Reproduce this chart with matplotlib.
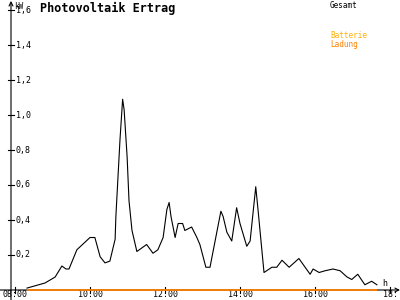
import matplotlib
matplotlib.use("Agg")
import matplotlib.pyplot as plt

# time (hours) and power (kW) of "Gesamt"
times = [8.32, 8.80, 9.07, 9.25, 9.36, 9.44, 9.65, 10.00, 10.13, 10.27, 10.40, 10.53,
         10.67, 10.69, 10.80, 10.87, 10.91, 10.99, 11.04, 11.12, 11.25, 11.51, 11.68,
         11.81, 11.95, 12.05, 12.11, 12.16, 12.27, 12.35, 12.47, 12.53, 12.71, 12.85,
         12.93, 13.09, 13.20, 13.49, 13.55, 13.65, 13.78, 13.91, 14.00, 14.18, 14.27,
         14.42, 14.48, 14.64, 14.85, 14.98, 15.12, 15.31, 15.57, 15.87, 15.95, 16.11,
         16.27, 16.48, 16.67, 16.85, 16.98, 17.14, 17.33, 17.51, 17.65]
gesamt = [0.011, 0.04, 0.074, 0.137, 0.12, 0.12, 0.23, 0.30, 0.30, 0.19, 0.155, 0.165,
          0.29, 0.42, 0.86, 1.09, 1.03, 0.76, 0.51, 0.34, 0.22, 0.26, 0.21,
          0.23, 0.30, 0.46, 0.50, 0.42, 0.30, 0.38, 0.38, 0.34, 0.36, 0.30,
          0.26, 0.13, 0.13, 0.45, 0.42, 0.33, 0.28, 0.47, 0.38, 0.25, 0.28,
          0.59, 0.46, 0.10, 0.13, 0.13, 0.17, 0.13, 0.18, 0.09, 0.12, 0.10,
          0.11, 0.12, 0.11, 0.075, 0.06, 0.09, 0.03, 0.05, 0.03]
ladung = [0.0] * len(times)

x_ticks = [8, 10, 12, 14, 16, 18]
x_labels = ["08:00", "10:00", "12:00", "14:00", "16:00", "18:"]
y_ticks = [0.2, 0.4, 0.6, 0.8, 1.0, 1.2, 1.4, 1.6]
y_labels = ["0,2", "0,4", "0,6", "0,8", "1,0", "1,2", "1,4", "1,6"]

W, H = 400, 300
fig = plt.figure(figsize=(4, 3), dpi=100)
fig.patch.set_facecolor("white")
ax = fig.add_axes([0, 0, 1, 1])
ax.set_axis_off()

# pixel -> data mapping: 08:00 at px 15, 37.5 px/h ; 0 kW at px 290, 175 px/kW
ax.set_xlim(8 - 15 / 37.5, 8 + (W - 15) / 37.5)
ax.set_ylim(-(H - 290) / 175, 290 / 175)

x0_axis = 8 - 4 / 37.5  # y axis position
mono = "DejaVu Sans Mono"

# axes lines with arrows
ax.annotate("", xy=(ax.get_xlim()[1], 0), xytext=(ax.get_xlim()[0], 0),
            arrowprops=dict(arrowstyle="->", color="black", lw=0.8, shrinkA=0, shrinkB=0,
                            mutation_scale=7), zorder=1)
ax.annotate("", xy=(x0_axis, ax.get_ylim()[1] - 0.005), xytext=(x0_axis, ax.get_ylim()[0]),
            arrowprops=dict(arrowstyle="->", color="black", lw=0.8, shrinkA=0, shrinkB=0,
                            mutation_scale=7), zorder=1)

# ticks
for t, lab in zip(x_ticks, x_labels):
    ax.plot([t, t], [-0.017, 0.017], color="black", lw=0.8)
    ax.text(t, -(299 - 290) / 175, lab, ha="center", va="bottom", fontsize=6, family=mono,
            color="black")
for v, lab in zip(y_ticks, y_labels):
    ax.plot([x0_axis - 0.08, x0_axis + 0.08], [v, v], color="black", lw=0.8)
    ax.text(x0_axis + 0.12, v, lab, ha="left", va="center", fontsize=6, family=mono, color="black")

# data
ax.plot(times, ladung, color="#FF8000", lw=1.3, solid_capstyle="butt", zorder=5)
ax.plot(times, gesamt, color="black", lw=0.8, zorder=6)

# texts
ax.text(14 / W, 1 - 2 / H, "kW", transform=ax.transAxes, fontsize=5.5, family=mono,
        ha="left", va="top")
ax.text(40 / W, 1 - 8 / H, "Photovoltaik Ertrag", transform=ax.transAxes, fontsize=8.5,
        family=mono, weight="bold", ha="left", va="center")
ax.text(330 / W, 1 - 5 / H, "Gesamt", transform=ax.transAxes, fontsize=5.5, family=mono,
        ha="left", va="center", color="black")
ax.text(330 / W, 1 - 36 / H, "Batterie", transform=ax.transAxes, fontsize=5.5, family=mono,
        ha="left", va="center", color="#FFB000")
ax.text(330 / W, 1 - 44 / H, "Ladung", transform=ax.transAxes, fontsize=5.5, family=mono,
        ha="left", va="center", color="#FF8000")
ax.text(385 / W, 1 - 284 / H, "h", transform=ax.transAxes, fontsize=6, family=mono,
        ha="center", va="center")

fig.savefig("out.png", dpi=100, facecolor="white")
